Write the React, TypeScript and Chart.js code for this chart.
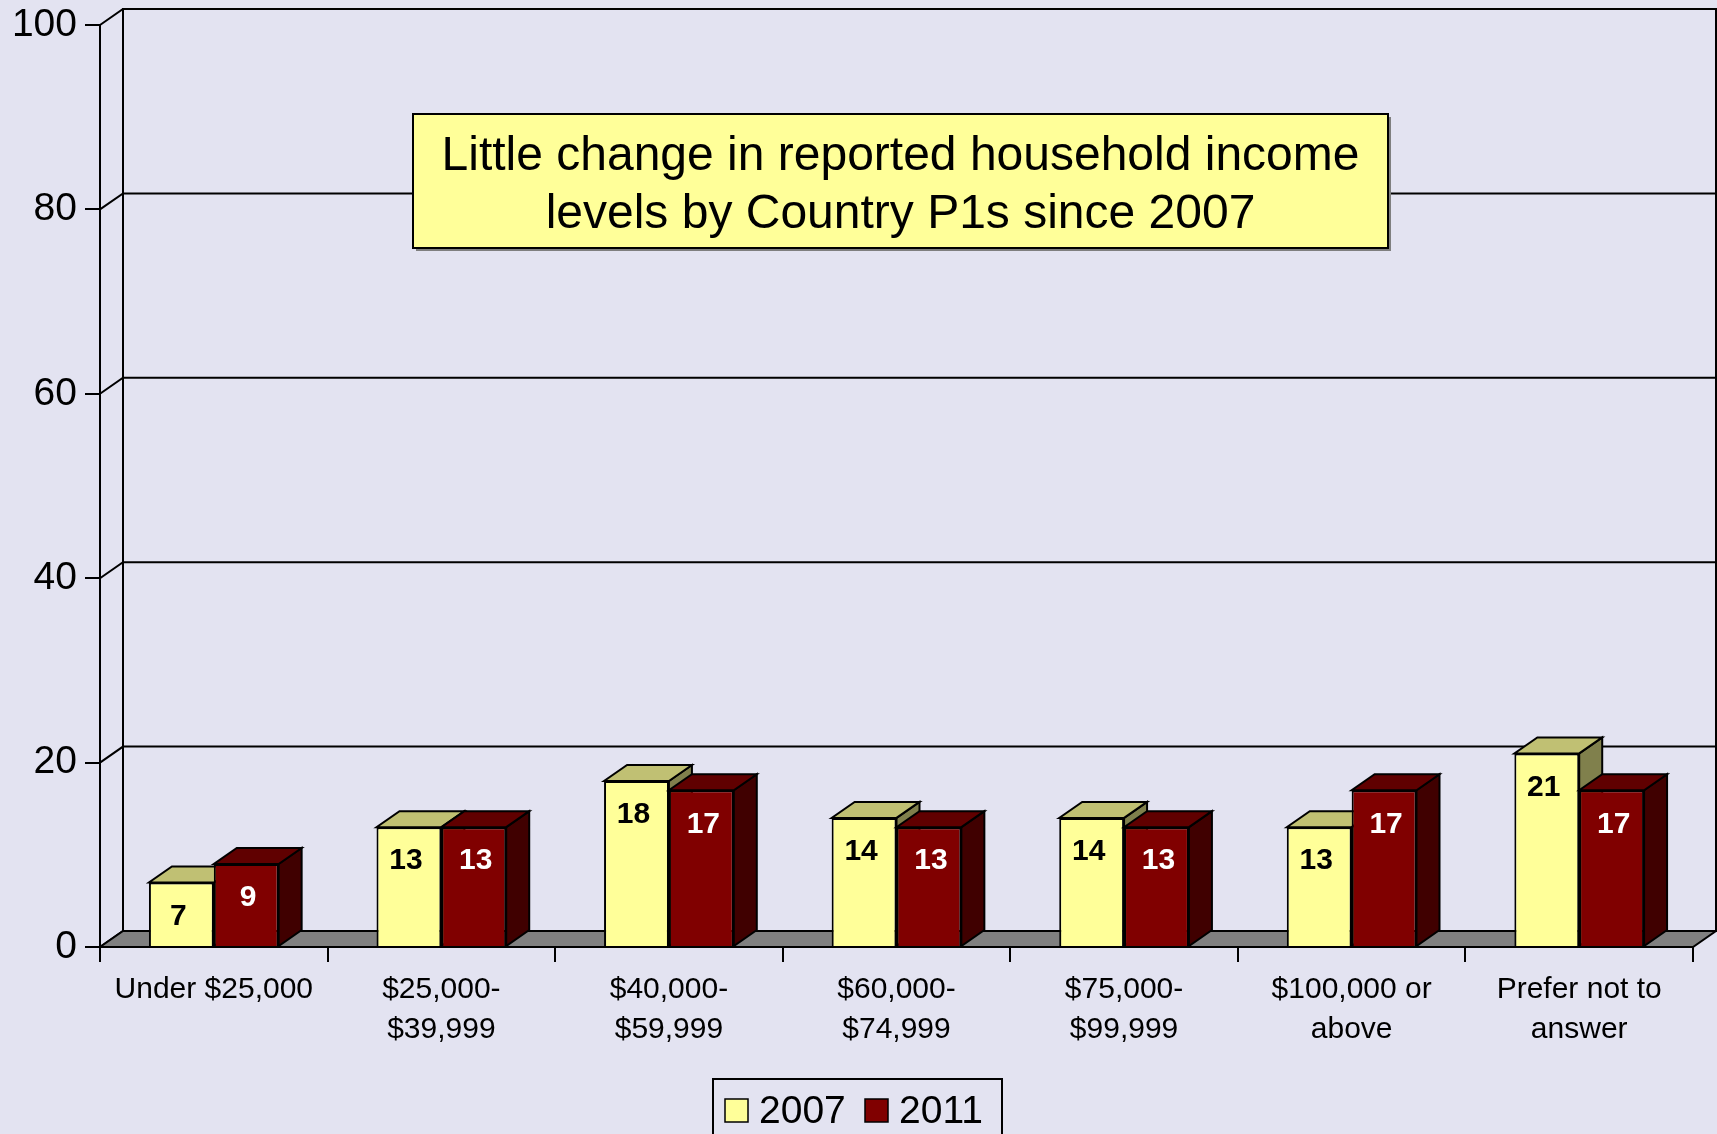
import React, { useEffect, useRef } from "react";
import { Chart, registerables } from "chart.js";

Chart.register(...registerables);

// ---------------- data ----------------
const categories: string[][] = [
  ["Under $25,000"],
  ["$25,000-", "$39,999"],
  ["$40,000-", "$59,999"],
  ["$60,000-", "$74,999"],
  ["$75,000-", "$99,999"],
  ["$100,000 or", "above"],
  ["Prefer not to", "answer"],
];
const values2007 = [7, 13, 18, 14, 14, 13, 21];
const values2011 = [9, 13, 17, 13, 13, 17, 17];
const seriesNames = ["2007", "2011"];
const yMin = 0;
const yMax = 100;
const yStep = 20;
const annotationLines = [
  "Little change in reported household income",
  "levels by Country P1s since 2007",
];

// ---------------- styles ----------------
const W = 1717;
const H = 1134;
const BG = "#E3E3F1";
const DX = 23;
const DY = 16;
const FONT = "Arial, 'Liberation Sans', Helvetica, sans-serif";
const frontColors = ["#FFFF99", "#800000"];
const topColors = ["#C0C073", "#600000"];
const sideColors = ["#80804C", "#400000"];
const labelColors = ["#000000", "#FFFFFF"];
const labelDx = [-3, 2];
const labelDy = 34;

function poly(ctx: CanvasRenderingContext2D, pts: number[][], fill: string) {
  ctx.beginPath();
  ctx.moveTo(pts[0][0], pts[0][1]);
  for (let i = 1; i < pts.length; i++) ctx.lineTo(pts[i][0], pts[i][1]);
  ctx.closePath();
  ctx.fillStyle = fill;
  ctx.fill();
  ctx.stroke();
}

function drawFaces(chart: any, di: number) {
  const ctx: CanvasRenderingContext2D = chart.ctx;
  const meta = chart.getDatasetMeta(di);
  ctx.save();
  ctx.strokeStyle = "#000";
  ctx.lineWidth = 2;
  ctx.lineJoin = "miter";
  meta.data.forEach((bar: any) => {
    const { x, y, base, width } = bar.getProps(["x", "y", "base", "width"], true);
    const l = x - width / 2;
    const r = x + width / 2;
    poly(ctx, [[r, y], [r + DX, y - DY], [r + DX, base - DY], [r, base]], sideColors[di]);
    poly(ctx, [[l, y], [r, y], [r + DX, y - DY], [l + DX, y - DY]], topColors[di]);
  });
  ctx.restore();
}

const threeDPlugin = {
  id: "threeD",
  beforeDraw(chart: any) {
    const { ctx, chartArea: a, scales } = chart;
    const ys = scales.y;
    ctx.save();
    ctx.fillStyle = BG;
    ctx.fillRect(0, 0, chart.width, chart.height);
    ctx.strokeStyle = "#000";
    ctx.lineWidth = 2;
    // back wall
    ctx.strokeRect(a.left + DX, a.top - DY, a.right - a.left, a.bottom - a.top);
    // gridlines on back wall + diagonals on side wall
    ys.ticks.forEach((t: any) => {
      const py = ys.getPixelForValue(t.value);
      ctx.beginPath();
      ctx.moveTo(a.left, py);
      ctx.lineTo(a.left + DX, py - DY);
      ctx.lineTo(a.right + DX, py - DY);
      ctx.stroke();
    });
    ctx.restore();
  },
  beforeDatasetsDraw(chart: any) {
    const { ctx, chartArea: a } = chart;
    ctx.save();
    ctx.strokeStyle = "#000";
    ctx.lineWidth = 2;
    poly(
      ctx,
      [
        [a.left, a.bottom],
        [a.right, a.bottom],
        [a.right + DX, a.bottom - DY],
        [a.left + DX, a.bottom - DY],
      ],
      "#808080"
    );
    ctx.restore();
    drawFaces(chart, 0);
  },
  afterDatasetsDraw(chart: any) {
    drawFaces(chart, 1);
    const ctx: CanvasRenderingContext2D = chart.ctx;
    ctx.save();
    ctx.font = `bold 30px ${FONT}`;
    ctx.textAlign = "center";
    ctx.textBaseline = "middle";
    chart.data.datasets.forEach((ds: any, di: number) => {
      const meta = chart.getDatasetMeta(di);
      ctx.fillStyle = labelColors[di];
      meta.data.forEach((bar: any, i: number) => {
        const { x, y } = bar.getProps(["x", "y"], true);
        ctx.fillText(String(ds.data[i]), x + labelDx[di], y + labelDy);
      });
    });
    ctx.restore();
  },
  afterDraw(chart: any) {
    const ctx: CanvasRenderingContext2D = chart.ctx;
    ctx.save();
    // annotation box
    const bx = 413, by = 114, bw = 975, bh = 134;
    ctx.fillStyle = "#7F7F7F";
    ctx.fillRect(bx + 3, by + 3, bw, bh);
    ctx.fillStyle = "#FFFF99";
    ctx.fillRect(bx, by, bw, bh);
    ctx.strokeStyle = "#000";
    ctx.lineWidth = 2;
    ctx.strokeRect(bx, by, bw, bh);
    ctx.fillStyle = "#000";
    ctx.font = `48px ${FONT}`;
    ctx.textAlign = "center";
    ctx.textBaseline = "alphabetic";
    annotationLines.forEach((line, i) => {
      ctx.fillText(line, bx + bw / 2, 170 + i * 58);
    });

    // legend
    const lx = 713, ly = 1079, lw = 289, lh = 80;
    ctx.fillStyle = BG;
    ctx.fillRect(lx, ly, lw, lh);
    ctx.strokeRect(lx, ly, lw, lh);
    ctx.font = `39px ${FONT}`;
    ctx.textAlign = "left";
    const itemX = [725, 865];
    chart.data.datasets.forEach((ds: any, di: number) => {
      const sx = itemX[di];
      ctx.fillStyle = ds.backgroundColor;
      ctx.fillRect(sx, 1099, 23, 23);
      ctx.lineWidth = 1.5;
      ctx.strokeRect(sx, 1099, 23, 23);
      ctx.fillStyle = "#000";
      ctx.fillText(ds.label, sx + 34, 1123);
    });
    ctx.restore();
  },
};

export default function App() {
  const ref = useRef<HTMLCanvasElement | null>(null);

  useEffect(() => {
    if (!ref.current) return;
    const chart = new Chart(ref.current, {
      type: "bar",
      data: {
        labels: categories,
        datasets: [
          {
            label: seriesNames[0],
            data: values2007,
            backgroundColor: frontColors[0],
            borderColor: "#000",
            borderWidth: 2,
          },
          {
            label: seriesNames[1],
            data: values2011,
            backgroundColor: frontColors[1],
            borderColor: "#000",
            borderWidth: 2,
          },
        ],
      },
      options: {
        responsive: false,
        animation: false,
        events: [],
        layout: { padding: { top: 25, right: 24, left: 0, bottom: 0 } },
        datasets: {
          bar: { categoryPercentage: 0.57, barPercentage: 1 },
        },
        plugins: {
          legend: { display: false },
          tooltip: { enabled: false },
          title: { display: false },
        },
        scales: {
          x: {
            offset: true,
            grid: {
              offset: true,
              drawOnChartArea: false,
              drawTicks: true,
              tickLength: 15,
              color: "#000",
              lineWidth: 2,
            },
            border: { display: true, color: "#000", width: 2 },
            ticks: {
              color: "#000",
              padding: 8,
              maxRotation: 0,
              autoSkip: false,
              font: { family: FONT, size: 30, lineHeight: 1.33 },
            },
            afterFit(scale: any) {
              scale.height = 187;
              scale.paddingLeft = 0;
              scale.paddingRight = 0;
              scale.paddingTop = 0;
              scale.paddingBottom = 0;
            },
          },
          y: {
            min: yMin,
            max: yMax,
            ticks: {
              stepSize: yStep,
              color: "#000",
              padding: 8,
              font: { family: FONT, size: 39 },
            },
            grid: {
              drawOnChartArea: false,
              drawTicks: true,
              tickLength: 15,
              color: "#000",
              lineWidth: 2,
            },
            border: { display: true, color: "#000", width: 2 },
            afterFit(scale: any) {
              scale.width = 100;
              scale.paddingTop = 0;
              scale.paddingBottom = 0;
              scale.paddingLeft = 0;
              scale.paddingRight = 0;
            },
          },
        },
      },
      plugins: [threeDPlugin],
    });
    return () => chart.destroy();
  }, []);

  return (
    <div style={{ position: "absolute", left: 0, top: 0, width: W, height: H }}>
      <canvas ref={ref} width={W} height={H} style={{ width: W, height: H, display: "block" }} />
    </div>
  );
}
